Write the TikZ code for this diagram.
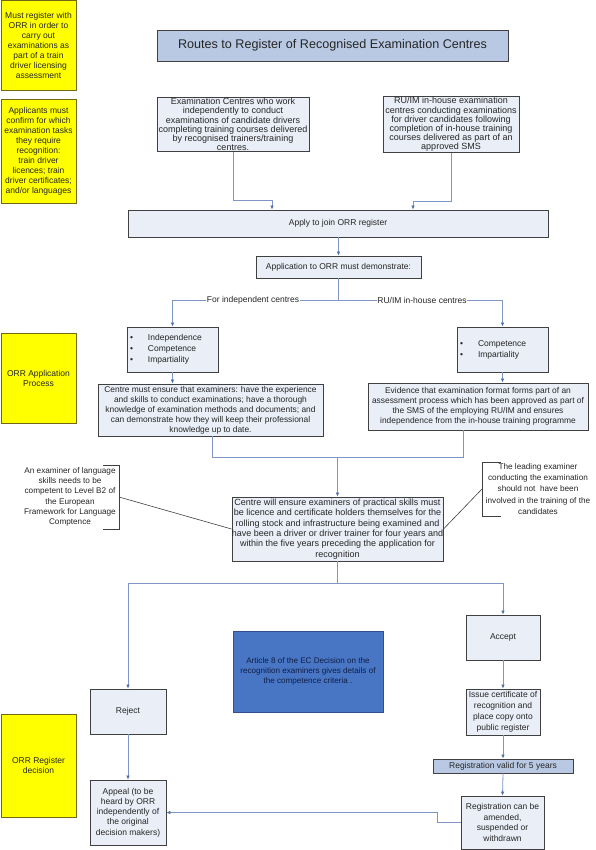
\documentclass[tikz,border=0pt]{standalone}
\usepackage{fontspec}
\setmainfont{Liberation Sans}
\usetikzlibrary{arrows.meta}
\definecolor{boxfill}{RGB}{233,238,247}
\definecolor{boxline}{RGB}{64,64,64}
\definecolor{titlefill}{RGB}{185,201,227}
\definecolor{conn}{RGB}{125,150,196}
\definecolor{tipc}{RGB}{79,111,168}
\definecolor{ylw}{RGB}{255,255,0}
\definecolor{ylwline}{RGB}{115,105,20}
\definecolor{artfill}{RGB}{72,118,196}
\definecolor{artline}{RGB}{50,80,140}
\definecolor{arttext}{RGB}{15,30,70}
\begin{document}
\begin{tikzpicture}[x=1pt,y=-1pt,
  every node/.style={font=\fontsize{8.5}{10}\selectfont, align=center, inner sep=1pt, text=black!85},
  fs/.style 2 args={font=\fontsize{#1}{#2}\selectfont},
  box/.style={draw=boxline, fill=boxfill, line width=0.9pt},
  ybox/.style={draw=ylwline, fill=ylw, line width=0.8pt},
  sz/.style 2 args={minimum width=#1pt, minimum height=#2pt},
  ln/.style={draw=conn, line width=0.8pt},
  arr/.style={draw=conn, line width=0.8pt, -{Latex[length=4pt,width=3.6pt,color=tipc]}},
  co/.style={draw=boxline, line width=0.6pt}]
\fill[white] (0,0) rectangle (596,850);
\useasboundingbox (0,0) rectangle (596,850);

% yellow side boxes
\node[ybox, sz={75}{90}] (y1) at (38.5,45) {Must register with\\ORR in order to\\carry out\\examinations as\\part of a train\\driver licensing\\assessment};
\node[ybox, sz={75}{104}] (y2) at (38.5,151) {Applicants must\\confirm for which\\examination tasks\\they require\\recognition:\\train driver\\licences; train\\driver certificates;\\and/or languages};
\node[ybox, sz={75}{90}] (y3) at (38.5,378) {ORR Application\\Process};
\node[ybox, sz={75}{103}] (y4) at (38.5,765.5) {ORR Register\\decision};

% title
\node[box, fill=titlefill, sz={351}{31}, fs={12.6}{14}] (title) at (332.5,45.5) {Routes to Register of Recognised Examination Centres};

% top boxes
\node[box, sz={152}{51}, fs={9}{9.2}] (A) at (233,124.5) {Examination Centres who work\\independently to conduct\\examinations of candidate drivers\\completing training courses delivered\\by recognised trainers/training\\centres.};
\node[box, sz={136}{51}, fs={9}{9.2}] (B) at (451,124.5) {RU/IM in-house examination\\centres conducting examinations\\for driver candidates following\\completion of in-house training\\courses delivered as part of an\\approved SMS};

\node[box, sz={420}{27}] (apply) at (338,223.5) {Apply to join ORR register};
\node[box, sz={165}{22}] (demo) at (338.5,267) {Application to ORR must demonstrate:};

\draw[arr] (A.south) -- ++(0,48.5) -| (apply.north -| 272,0);
\draw[arr] (B.south) -- ++(0,48.5) -| (apply.north -| 413,0);
\draw[arr] (apply.south -| demo.north) -- (demo.north);

% split
\coordinate (split) at (338.5,300);
\node[box, sz={91}{45}, align=left, text width=85pt, inner xsep=3pt, fs={8.5}{10.7}] (C) at (172.5,349.5)
  {\makebox[18pt][l]{\textbullet}Independence\\\makebox[18pt][l]{\textbullet}Competence\\\makebox[18pt][l]{\textbullet}Impartiality};
\node[box, sz={91}{45}, align=left, text width=85pt, inner xsep=3pt, fs={8.5}{11}] (D) at (502.5,349.5)
  {\makebox[18pt][l]{\textbullet}Competence\\\makebox[18pt][l]{\textbullet}Impartiality};
\draw[ln] (demo.south) -- (split);
\draw[arr] (split) -| (C.north);
\draw[arr] (split) -| (D.north);
\node[fill=white, inner xsep=0.5pt] (lblL) at (253,300) {For independent centres};
\node[fill=white, inner xsep=0.5pt] (lblR) at (422,300) {RU/IM in-house centres};

\node[box, sz={225}{52}, fs={8.4}{10}] (E) at (210.5,410) {Centre must ensure that examiners: have the experience\\and skills to conduct examinations; have a thorough\\knowledge of examination methods and documents; and\\can demonstrate how they will keep their professional\\knowledge up to date.};
\node[box, sz={220}{47}, fs={8.4}{10}] (F) at (478,406.5) {Evidence that examination format forms part of an\\assessment process which has been approved as part of\\the SMS of the employing RU/IM and ensures\\independence from the in-house training programme};
\draw[arr] (C.south) -- (C.south |- E.north);
\draw[arr] (D.south) -- (D.south |- F.north);

\node[box, sz={203}{64}, fs={9}{10.4}, inner sep=0pt] (G) at (337.5,529) {Centre will ensure examiners of practical skills must\\be licence and certificate holders themselves for the\\rolling stock and infrastructure being examined and\\have been a driver or driver trainer for four years and\\within the five years preceding the application for\\recognition};
\coordinate (merge) at (337.5,457);
\draw[ln] ([xshift=1.5pt]E.south) |- (merge);
\draw[ln] ([xshift=-15pt]F.south) |- (merge);
\draw[arr] (merge) -- (G.north);

% callouts
\node[fs={8.2}{10.3}] (cl) at (70,497) {An examiner of language\\skills needs to be\\competent to Level B2 of\\the European\\Framework for Language\\Comptence};
\draw[co] (103,465) -- (119,465) -- (119,529) -- (103,529);
\coordinate (clm) at (119,497);
\draw[co] (clm) -- (G.west);
\node[fs={8.2}{11.2}] (cr) at (538,489) {The leading examiner\\conducting the examination\\should not \ have been\\involved in the training of the\\candidates};
\draw[co] (501,462) -- (482,462) -- (482,516) -- (501,516);
\coordinate (crm) at (482,489);
\draw[co] (crm) -- (G.east);

% decision
\node[box, sz={76}{45}] (reject) at (128,711.5) {Reject};
\node[box, sz={76}{65}, fs={8.5}{10.2}] (appeal) at (128,812.5) {Appeal (to be\\heard by ORR\\independently of\\the original\\decision makers)};
\node[box, sz={74}{45}] (accept) at (503,637.5) {Accept};
\node[box, sz={74}{46}, fs={8.5}{11}] (issue) at (503,712) {Issue certificate of\\recognition and\\place copy onto\\public register};
\node[box, fill=titlefill, sz={140}{14}] (valid) at (503,766) {Registration valid for 5 years};
\node[box, sz={83}{53}, fs={8.5}{10.6}] (amend) at (502.5,822.5) {Registration can be\\amended,\\suspended or\\withdrawn};

\coordinate (dec) at (337.5,583);
\draw[ln] (G.south) -- (dec);
\draw[arr] (dec) -| (reject.north);
\draw[arr] (dec) -| (accept.north);
\draw[arr] (reject.south) -- (appeal.north);
\draw[arr] (accept.south) -- (issue.north);
\draw[arr] (issue.south) -- (valid.north);
\draw[arr] (valid.south) -- (amend.north);
\draw[arr] (amend.west) -- ++(-23,0) |- (appeal.east);

\node[draw=artline, fill=artfill, line width=0.8pt, sz={150}{81}, text=arttext, fs={8.1}{10}] (art) at (308,671.5) {Article 8 of the EC Decision on the\\recognition examiners gives details of\\the competence criteria .};
\end{tikzpicture}
\end{document}
